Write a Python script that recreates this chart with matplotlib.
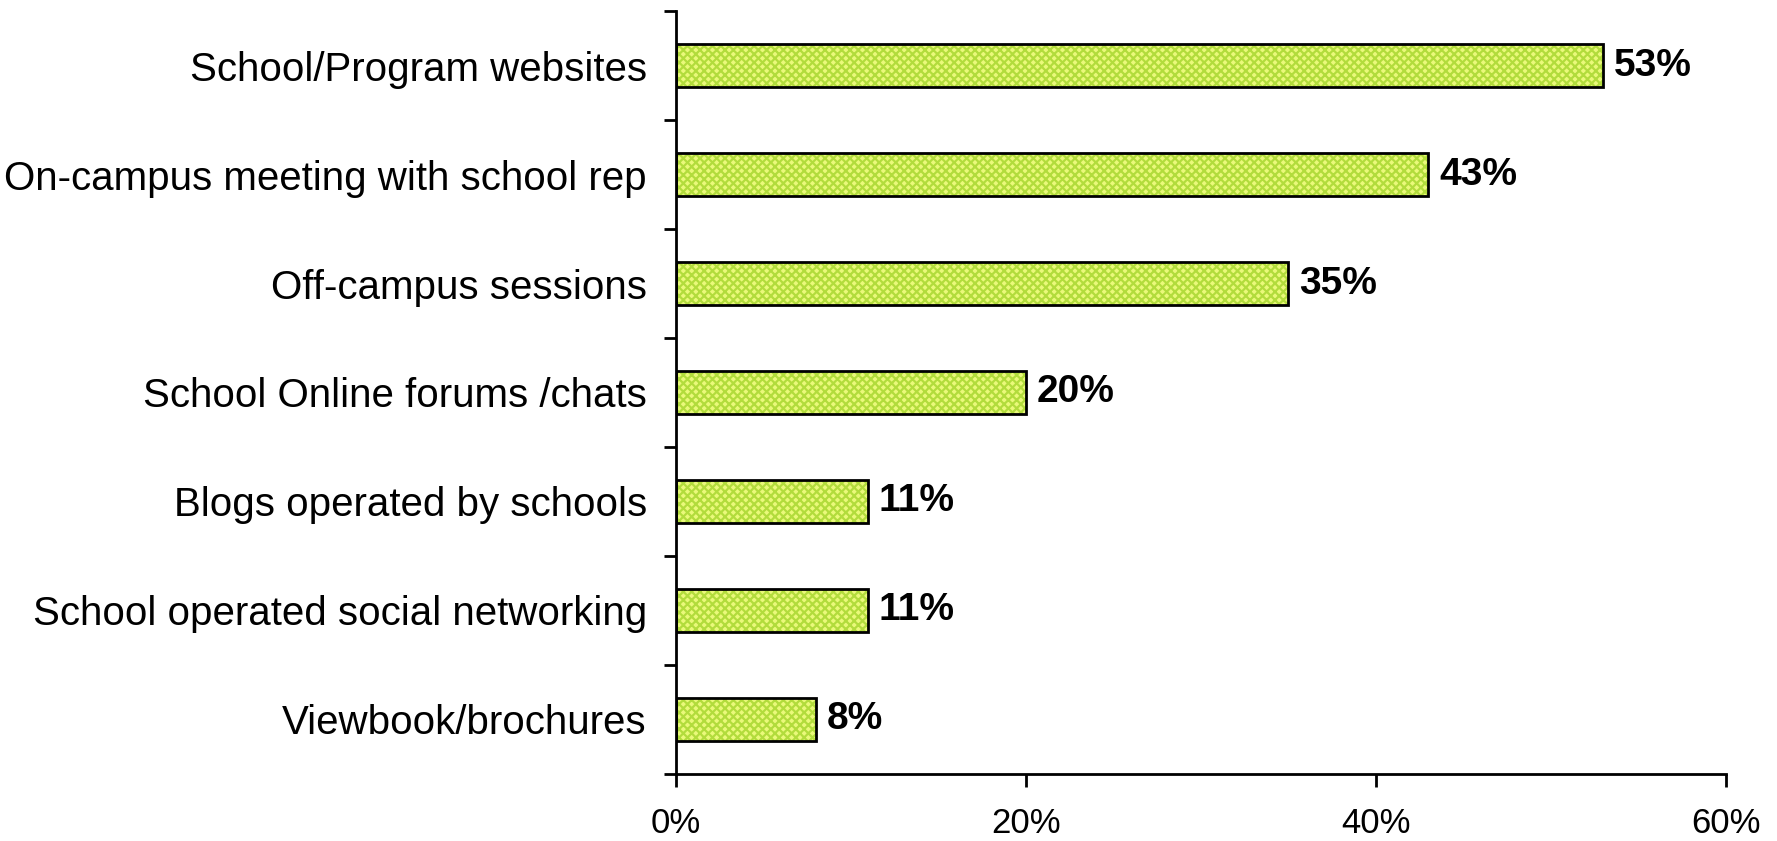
import matplotlib
matplotlib.use("Agg")
import matplotlib.pyplot as plt
from matplotlib.ticker import FuncFormatter, FixedLocator

# ---------------- DATA ----------------
sources = [
    "School/Program websites",
    "On-campus meeting with school rep",
    "Off-campus sessions",
    "School Online forums /chats",
    "Blogs operated by schools",
    "School operated social networking",
    "Viewbook/brochures",
]
shares = [53, 43, 35, 20, 11, 11, 8]

plt.rcParams["font.family"] = ["Liberation Sans", "DejaVu Sans"]
plt.rcParams["hatch.linewidth"] = 1.6

fig = plt.figure(figsize=(17.77, 8.41), dpi=100)
ax = fig.add_axes([0.3804, 0.0797, 0.5909, 0.9072])

n = len(sources)
ypos = list(range(n))
bar_h = 0.40

# ---------------- BARS ----------------
# fill + fine green cross hatch, then a black outline on top
ax.barh(ypos, shares, height=bar_h, color="#eaf97a", edgecolor="#b2dc3c",
        hatch="xxxx", linewidth=0, zorder=2)
ax.barh(ypos, shares, height=bar_h, color="none", edgecolor="black",
        linewidth=2.0, zorder=3)

for y, v in zip(ypos, shares):
    ax.text(v + 0.6, y, f"{v}%", va="center", ha="left",
            fontsize=28, fontweight="bold", color="black")

# ---------------- AXES ----------------
ax.set_xlim(0, 60)
ax.set_ylim(n - 0.5, -0.5)

ax.set_xticks([0, 20, 40, 60])
ax.xaxis.set_major_formatter(FuncFormatter(lambda x, _: f"{x:.0f}%"))

# category labels centred, tick marks on category boundaries
ax.yaxis.set_major_locator(FixedLocator([i - 0.5 for i in range(n + 1)]))
ax.yaxis.set_major_formatter(FuncFormatter(lambda *a: ""))
ax.set_yticks(ypos, minor=True)
ax.set_yticklabels(sources, minor=True, fontsize=29)
ax.tick_params(axis="y", which="minor", length=0, pad=21)
ax.tick_params(axis="y", which="major", direction="out", length=9, width=2)
ax.tick_params(axis="x", direction="out", length=9, width=2,
               labelsize=25, pad=15)

for side in ["top", "right"]:
    ax.spines[side].set_visible(False)
for side in ["left", "bottom"]:
    ax.spines[side].set_linewidth(2)

fig.savefig("out.png", dpi=100)
